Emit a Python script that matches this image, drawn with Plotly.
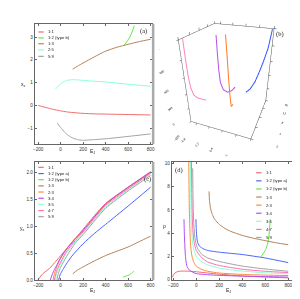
import plotly.graph_objects as go

W, H = 300, 299

# ---------------- data ----------------
labels_a = ["1:1", "1:2 (type b)", "1:3", "2:5", "5:9"]
labels_cd = ["1:1", "1:2 (type a)", "1:2 (type b)", "1:3", "2:3", "3:4", "3:5", "4:7", "5:9"]

col = {
    "1:1": "#f26b6b", "1:2 (type a)": "#4a66ff", "1:2 (type b)": "#6ee04a",
    "1:3": "#b5845c", "2:3": "#ff8a36", "3:4": "#b54ef0", "3:5": "#8cffd8",
    "2:5": "#8cffd8", "4:7": "#ff6fae", "5:9": "#a3a3a3",
}

# panel (a): x_s vs E_J
a_11_x = [-200, -150, -100, -50, 0, 50, 100, 200, 300, 400, 600, 800]
a_11_y = [0.0, -0.07, -0.13, -0.19, -0.24, -0.28, -0.31, -0.35, -0.37, -0.38, -0.40, -0.42]
a_12b_x = [560, 590, 615, 635, 655]
a_12b_y = [2.62, 2.8, 3.0, 3.22, 3.5]
a_13_x = [107, 150, 200, 300, 400, 500, 600, 700, 800]
a_13_y = [1.59, 1.72, 1.86, 2.13, 2.38, 2.55, 2.68, 2.8, 2.9]
a_25_x = [-45, -20, 0, 35, 70, 107, 150, 200, 300, 400, 600, 800]
a_25_y = [0.72, 0.85, 0.95, 1.06, 1.11, 1.13, 1.12, 1.1, 1.06, 1.03, 0.93, 0.84]
a_59_x = [-30, 0, 35, 70, 107, 150, 194, 300, 410, 600, 800]
a_59_y = [-0.78, -0.97, -1.17, -1.32, -1.43, -1.5, -1.53, -1.5, -1.46, -1.36, -1.25]

# panel (c): y_s vs E_J
c_11_x = [-205, -160, -100, -40, 50, 140, 200, 300, 400, 600, 800]
c_11_y = [0.0, 0.12, 0.22, 0.36, 0.58, 0.8, 0.95, 1.2, 1.43, 1.73, 2.02]
c_12a_x = [-18, -5, 20, 50, 100, 200, 300, 400, 600, 800]
c_12a_y = [0.0, 0.1, 0.2, 0.3, 0.45, 0.68, 0.87, 1.04, 1.38, 1.73]
c_12b_x = [555, 580, 610, 630, 650]
c_12b_y = [0.06, 0.08, 0.1, 0.13, 0.17]
c_13_x = [107, 150, 200, 300, 400, 500, 600, 700, 800]
c_13_y = [0.12, 0.19, 0.25, 0.36, 0.46, 0.54, 0.62, 0.72, 0.82]
c_23_x = [-68, -58, -40, -10, 40, 120, 200, 300, 400, 600, 800]
c_23_y = [0.0, 0.1, 0.22, 0.37, 0.55, 0.76, 0.92, 1.17, 1.41, 1.72, 2.0]
c_34_x = [-92, -80, -60, -30, 0, 50, 130, 200, 300, 400, 600, 800]
c_34_y = [0.0, 0.08, 0.18, 0.3, 0.42, 0.57, 0.77, 0.93, 1.18, 1.42, 1.73, 2.01]
c_35_x = [-47, -38, -20, 0, 50, 130, 200, 300, 400, 600, 800]
c_35_y = [0.0, 0.1, 0.21, 0.3, 0.5, 0.72, 0.87, 1.12, 1.36, 1.68, 1.97]
c_47_x = [-56, -46, -28, 0, 50, 130, 200, 300, 400, 600, 800]
c_47_y = [0.0, 0.1, 0.22, 0.34, 0.53, 0.74, 0.9, 1.15, 1.39, 1.7, 1.99]
c_59_x = [-33, -24, -5, 20, 60, 130, 200, 300, 400, 600, 800]
c_59_y = [0.0, 0.1, 0.22, 0.32, 0.47, 0.69, 0.85, 1.1, 1.34, 1.66, 1.95]

# panel (d): rho vs E_J
d_11_x = [-207, -195, -175, -150, -100, -50, 0, 100, 200, 400, 600, 800]
d_11_y = [0.2, 0.45, 0.62, 0.7, 0.72, 0.7, 0.66, 0.55, 0.45, 0.3, 0.2, 0.13]
d_12a_x = [-3, -1, 2, 6, 15, 30, 60, 100, 200, 300, 400, 600, 800]
d_12a_y = [5.2, 4.5, 4.0, 3.5, 3.1, 2.85, 2.65, 2.5, 2.35, 2.25, 2.15, 1.85, 1.45]
d_12b_x = [559, 580, 600, 616, 630, 644]
d_12b_y = [1.9, 2.2, 2.5, 2.9, 3.6, 5.2]
d_13_x = [111, 115, 125, 140, 160, 200, 250, 300, 400, 500, 600, 700, 800]
d_13_y = [7.6, 6.8, 6.1, 5.6, 5.2, 4.75, 4.4, 4.15, 3.8, 3.55, 3.35, 3.15, 3.0]
d_23_x = [-65, -62, -58, -52, -45, -35, -20, 0, 50, 100, 200, 400, 600, 800]
d_23_y = [10.2, 7.0, 5.0, 3.4, 2.5, 1.9, 1.45, 1.15, 0.85, 0.7, 0.55, 0.43, 0.37, 0.33]
d_34_x = [-107, -104, -100, -95, -90, -80, -60, -30, 0, 100, 200, 400, 600, 800]
d_34_y = [5.2, 4.0, 3.0, 2.1, 1.6, 1.1, 0.8, 0.62, 0.5, 0.4, 0.35, 0.28, 0.24, 0.2]
d_35_x = [-51, -48, -44, -38, -30, -20, 0, 50, 100, 200, 400, 600, 800]
d_35_y = [10.2, 7.0, 5.0, 3.8, 3.0, 2.5, 2.0, 1.5, 1.25, 0.98, 0.72, 0.57, 0.48]
d_47_x = [-42, -39, -35, -30, -22, -10, 0, 50, 100, 200, 400, 600, 800]
d_47_y = [10.2, 7.5, 5.5, 4.3, 3.4, 2.8, 2.5, 1.85, 1.5, 1.2, 0.88, 0.7, 0.59]
d_59_x = [-31, -29, -26, -22, -15, -5, 10, 50, 100, 200, 400, 600, 800]
d_59_y = [9.6, 7.5, 6.0, 4.8, 3.9, 3.2, 2.7, 2.15, 1.85, 1.55, 1.15, 0.9, 0.7]

# panel (b): 3D curves (x_s, rho, E_J)
b_pink = dict(x=[-1.05, -1.05, -1.04, -1.02, -0.96, -0.82, -0.65, -0.45],
              y=[1.0, 1.0, 1.0, 1.2, 1.5, 1.8, 2.0, 2.0],
              z=[800, 600, 400, 250, 150, 110, 100, 100])
b_purple = dict(x=[-0.2, -0.18, -0.15, -0.1, 0.0, 0.15, 0.3, 0.4],
                y=[6.0, 6.0, 6.0, 6.0, 6.3, 6.8, 7.5, 8.5],
                z=[800, 600, 400, 250, 150, 110, 120, 150])
b_orange = dict(x=[0.1, 0.17, 0.24, 0.31, 0.38, 0.44],
                y=[7.0, 6.8, 6.5, 6.2, 6.0, 6.5],
                z=[800, 550, 300, 100, -60, -40])
b_blue = dict(x=[1.55, 1.5, 1.4, 1.3, 1.2, 1.05, 0.9],
              y=[15.5, 14.0, 12.5, 11.0, 10.0, 9.0, 8.5],
              z=[800, 600, 450, 330, 230, 150, 110])

a_x_ticks = [-200, 0, 200, 400, 600, 800]

# ---------------- figure ----------------
fig = go.Figure()

def add(xa, ya, x, y, c):
    fig.add_trace(go.Scatter(x=x, y=y, mode="lines", xaxis=xa, yaxis=ya,
                             line=dict(color=c, width=1, shape="spline", smoothing=0.6),
                             showlegend=False, hoverinfo="skip"))

for lab, x, y in [("1:1", a_11_x, a_11_y), ("1:2 (type b)", a_12b_x, a_12b_y),
                  ("1:3", a_13_x, a_13_y), ("2:5", a_25_x, a_25_y), ("5:9", a_59_x, a_59_y)]:
    add("x", "y", x, y, col[lab])

c_series = [("1:1", c_11_x, c_11_y), ("1:2 (type a)", c_12a_x, c_12a_y),
            ("1:2 (type b)", c_12b_x, c_12b_y), ("1:3", c_13_x, c_13_y),
            ("2:3", c_23_x, c_23_y), ("3:4", c_34_x, c_34_y), ("3:5", c_35_x, c_35_y),
            ("4:7", c_47_x, c_47_y), ("5:9", c_59_x, c_59_y)]
for lab, x, y in c_series:
    add("x2", "y2", x, y, col[lab])

d_series = [("1:1", d_11_x, d_11_y), ("1:2 (type a)", d_12a_x, d_12a_y),
            ("1:2 (type b)", d_12b_x, d_12b_y), ("1:3", d_13_x, d_13_y),
            ("2:3", d_23_x, d_23_y), ("3:4", d_34_x, d_34_y), ("3:5", d_35_x, d_35_y),
            ("4:7", d_47_x, d_47_y), ("5:9", d_59_x, d_59_y)]
for lab, x, y in d_series:
    add("x3", "y3", x, y, col[lab])

for d, c in [(b_pink, "#ff86c2"), (b_purple, "#b44fe9"), (b_orange, "#ff7a28"), (b_blue, "#3456ff")]:
    fig.add_trace(go.Scatter3d(x=d["x"], y=d["y"], z=d["z"], mode="lines",
                               line=dict(color=c, width=2), showlegend=False,
                               hoverinfo="skip", scene="scene"))

FONT = "Liberation Sans"
frame = "#666666"

def ax(domain, rng, tickvals, fmt=None):
    d = dict(domain=domain, range=rng, tickvals=tickvals, showgrid=False, zeroline=False,
             showline=True, linecolor=frame, linewidth=1, mirror="ticks",
             ticks="inside", ticklen=2, tickcolor=frame, tickwidth=0.8,
             tickfont=dict(size=4.6, family=FONT, color="#333"))
    if fmt:
        d["tickformat"] = fmt
    return d

def px(v): return v / W
def py(v): return 1 - v / H

fig.update_layout(
    width=W, height=H, autosize=False, margin=dict(l=0, r=0, t=0, b=0),
    paper_bgcolor="white", plot_bgcolor="white",
    xaxis=ax([px(23.3), px(143.3)], [-230, 812], a_x_ticks),
    yaxis=ax([py(137), py(15)], [-1.7, 3.58], [-1, 0, 1, 2, 3]),
    xaxis2=ax([px(23.3), px(143.3)], [-230, 812], a_x_ticks),
    yaxis2=ax([py(275), py(155)], [0, 2.2], [0, 0.5, 1.0, 1.5, 2.0], ".1f"),
    xaxis3=ax([px(163.5), px(294)], [-214, 895], a_x_ticks),
    yaxis3=ax([py(275), py(155)], [-0.08, 10.15], [0, 2, 4, 6, 8, 10]),
)
fig.layout.yaxis2.anchor = "x2"; fig.layout.xaxis2.anchor = "y2"
fig.layout.yaxis3.anchor = "x3"; fig.layout.xaxis3.anchor = "y3"

sax = dict(showgrid=False, showbackground=False, showline=True, mirror="all",
           linecolor="#555", linewidth=1, zeroline=False, showspikes=False,
           ticks="outside", ticklen=2, tickfont=dict(size=6, family=FONT, color="#222"))
fig.update_layout(scene=dict(
    domain=dict(x=[0.5, 1.0], y=[0.5, 1.0]),
    xaxis=dict(sax, range=[-1.1, 1.6], tickvals=[-0.8, -0.2, 0.4, 1.0, 1.6], ticktext=["-0.8", "-0.2", "0.4", "1.", "1.6"],
               title=dict(text="x<sub>s</sub>", font=dict(size=6, family=FONT))),
    yaxis=dict(sax, range=[0, 16], tickvals=[0, 4, 8, 12, 16],
               title=dict(text="ρ", font=dict(size=6, family=FONT))),
    zaxis=dict(sax, range=[-200, 800], tickvals=[-200, 0, 200, 400, 600, 800],
               title=dict(text="E<sub>J</sub>", font=dict(size=6, family=FONT))),
    aspectmode="manual", aspectratio=dict(x=0.9, y=0.9, z=1.2),
    camera=dict(eye=dict(x=0.82, y=-2.05, z=1.19), center=dict(x=0.02, y=0, z=-0.1)),
))

ann = []
shapes = []
def text(x, y, s, size=4.2, xanchor="left", family=FONT):
    ann.append(dict(x=px(x), y=py(y), xref="paper", yref="paper", text=s, showarrow=False,
                    xanchor=xanchor, yanchor="middle", font=dict(size=size, family=family, color="#222")))

def legend(x0, ys, labs):
    for y, lab in zip(ys, labs):
        shapes.append(dict(type="line", xref="paper", yref="paper", x0=px(x0), x1=px(x0 + 5.5),
                           y0=py(y), y1=py(y), line=dict(color=col[lab], width=1.2)))
        text(x0 + 8, y, lab)

legend(27, [23.3, 29.3, 35.2, 41.5, 48.0], labels_a)
legend(27, [160.5, 166.8, 173.0, 179.3, 185.5, 191.8, 198.0, 204.3, 210.5], labels_cd)
legend(250, [166, 174.2, 182.4, 190.6, 198.8, 207, 215.2, 223.4, 231.6], labels_cd)

text(135, 22, "(a)", size=6.5, xanchor="center", family="Liberation Serif")
text(274, 25, "(b)", size=6.5, xanchor="center", family="Liberation Serif")
text(139, 172, "(c)", size=6.5, xanchor="center", family="Liberation Serif")
text(171, 163, "(d)", size=6.5, xanchor="center", family="Liberation Serif")

text(82, 144.5, "E<sub>J</sub>", size=5, xanchor="center")
text(12, 77, "x<sub>s</sub>", size=5, xanchor="center")
text(82, 285.5, "E<sub>J</sub>", size=5, xanchor="center")
text(11, 222, "y<sub>s</sub>", size=5, xanchor="center")
text(222, 285.5, "E<sub>J</sub>", size=5, xanchor="center")
text(156, 220, "ρ", size=5, xanchor="center")

# thick gray right borders on (a) and (c)
for y0, y1 in [(15, 137), (155, 275)]:
    shapes.append(dict(type="line", xref="paper", yref="paper", x0=px(144.5), x1=px(144.5),
                       y0=py(y0), y1=py(y1), line=dict(color="#aaaaaa", width=2.5)))

fig.update_layout(annotations=ann, shapes=shapes)
fig.write_html("out.html")
